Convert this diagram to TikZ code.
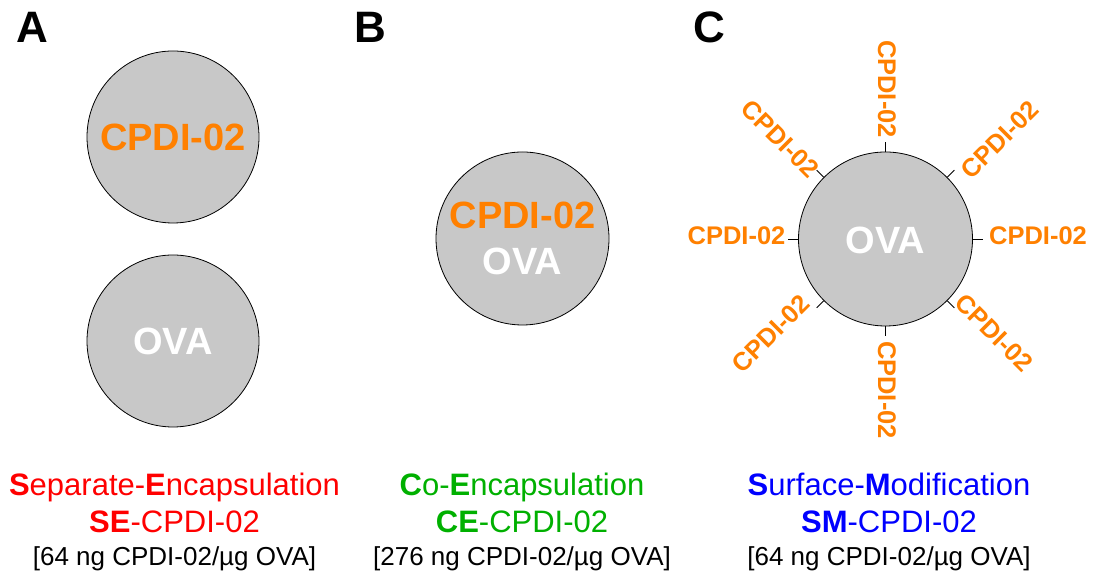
\documentclass[tikz,border=0pt]{standalone}
\usepackage{fontspec}
\setmainfont{Liberation Sans}
\usetikzlibrary{calc}
\definecolor{orangeC}{RGB}{255,128,0}
\definecolor{grisC}{RGB}{200,200,200}
\definecolor{rougeC}{RGB}{255,0,0}
\definecolor{vertC}{RGB}{0,176,0}
\definecolor{bleuC}{RGB}{0,0,255}
\tikzset{
  bulle/.style={circle, draw=black, line width=0.8pt, fill=grisC, inner sep=0pt,
    minimum size=172pt, align=center,
    font=\fontsize{38}{45.5}\selectfont\bfseries},
  lettre/.style={font=\fontsize{44}{44}\selectfont\bfseries},
  titre/.style={anchor=base, font=\fontsize{31}{31}\selectfont},
  dose/.style={anchor=base, font=\fontsize{26}{26}\selectfont},
  greffe/.style={text=orangeC, font=\fontsize{25.5}{25.5}\selectfont\bfseries, inner sep=0pt}
}
\begin{document}
\begin{tikzpicture}[x=1pt, y=1pt]
\useasboundingbox (0,0) rectangle (1095,583); % Pour la bounding box

% Lettres des panneaux
\node[lettre] (lA) at (32,555.5) {A};
\node[lettre] (lB) at (370.5,555.5) {B};
\node[lettre] (lC) at (709,555.5) {C};

% A : encapsulation separee
\node[bulle, text=orangeC] (cpdiA) at (173,446) {CPDI-02};
\node[bulle, text=white] (ovaA) at (173,242) {OVA};

% B : co-encapsulation
\node[bulle, minimum size=173pt] (ovaB) at (522.5,344.5) {\textcolor{orangeC}{CPDI-02}\\\textcolor{white}{OVA}};

% C : modification de surface
\node[bulle, minimum size=174pt] (ovaC) at (885.5,344) {};
\node[text=white, font=\fontsize{38}{38}\selectfont\bfseries] (txtC) at (885.5,343) {OVA};
\foreach \ang/\dx/\dy in {0/152.5/3, 45/114.5/99, 90/1.5/150, 135/-105.5/100,
    180/-149/3, 225/-114.5/-94.5, 270/1.5/-151, 315/108.5/-94} {
  \pgfmathsetmacro\rot{(\ang>=90 && \ang<270) ? \ang+180 : \ang}
  \draw[line width=0.8pt] (ovaC.\ang) -- ++(\ang:10);
  \node[greffe, rotate=\rot] (g\ang) at ($(ovaC)+(\dx,\dy)$) {CPDI-02};
}

% Legendes
\node[titre, text=rougeC] (titreA) at (174.5,87) {\textbf{S}eparate-\textbf{E}ncapsulation};
\node[titre, text=rougeC] (sigleA) at (174.5,50) {\textbf{SE}-CPDI-02};
\node[dose] (doseA) at (174.5,17) {[64 ng CPDI-02/µg OVA]};

\node[titre, text=vertC] (titreB) at (522,87) {\textbf{C}o-\textbf{E}ncapsulation};
\node[titre, text=vertC] (sigleB) at (522,50) {\textbf{CE}-CPDI-02};
\node[dose] (doseB) at (522,17) {[276 ng CPDI-02/µg OVA]};

\node[titre, text=bleuC] (titreC) at (889,87) {\textbf{S}urface-\textbf{M}odification};
\node[titre, text=bleuC] (sigleC) at (889,50) {\textbf{SM}-CPDI-02};
\node[dose] (doseC) at (889,17) {[64 ng CPDI-02/µg OVA]};
\end{tikzpicture}
\end{document}
